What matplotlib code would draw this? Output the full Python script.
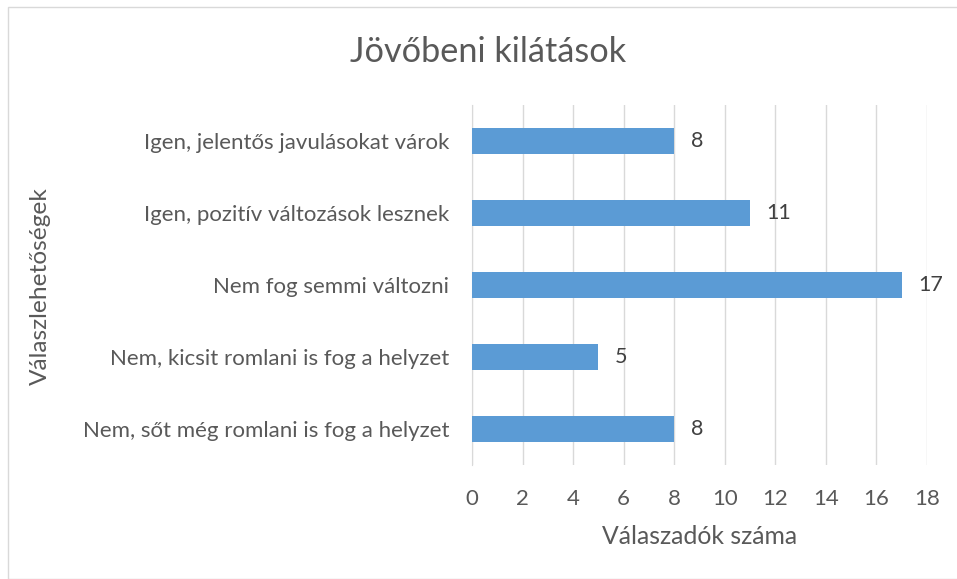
import matplotlib.pyplot as plt
import numpy as np
from matplotlib.patches import Rectangle

plt.rcParams['font.family'] = ['Lato', 'DejaVu Sans']

categories = [
    'Nem, sőt még romlani is fog a helyzet',
    'Nem, kicsit romlani is fog a helyzet',
    'Nem fog semmi változni',
    'Igen, pozitív változások lesznek',
    'Igen, jelentős javulásokat várok',
]
values = [8, 5, 17, 11, 8]
xticks = [0, 2, 4, 6, 8, 10, 12, 14, 16, 18]

text_color = '#595959'
grid_color = '#D9D9D9'
bar_color = '#5B9BD5'

fig = plt.figure(figsize=(9.57, 5.79), dpi=100)
fig.patches.append(Rectangle((8 / 957, 0), 1, 1 - 7 / 579, transform=fig.transFigure,
                             fill=False, edgecolor=grid_color, linewidth=1))

ax = fig.add_axes([472 / 957, 1 - 465 / 579, 455 / 957, 360 / 579])
y = np.arange(len(categories))
ax.barh(y, values, height=0.36, color=bar_color, zorder=3)

for yi, v in zip(y, values):
    ax.text(v + 0.65, yi, str(v), va='center', ha='left', fontsize=15.5, color='#404040')

ax.set_xlim(0, 18)
ax.set_ylim(-0.5, len(categories) - 0.5)
ax.set_xticks(xticks)
ax.set_yticks(y)
ax.set_yticklabels(categories)
ax.grid(axis='x', color=grid_color, linewidth=1, zorder=0)
ax.tick_params(axis='both', length=0, labelsize=16, labelcolor=text_color)
ax.tick_params(axis='x', pad=17)
ax.tick_params(axis='y', pad=16.5)
for s in ['top', 'right', 'bottom']:
    ax.spines[s].set_visible(False)
ax.spines['left'].set_color(grid_color)

fig.text(700 / 957, 1 - 537 / 579, 'Válaszadók száma', ha='center', va='center',
         fontsize=17.8, color=text_color)
fig.text(40 / 957, 1 - 286 / 579, 'Válaszlehetőségek', ha='center', va='center',
         rotation=90, fontsize=17.6, color=text_color)
fig.text(488 / 957, 1 - 52 / 579, 'Jövőbeni kilátások', ha='center', va='center',
         fontsize=24.7, color=text_color)

fig.savefig('out.png', dpi=100)
